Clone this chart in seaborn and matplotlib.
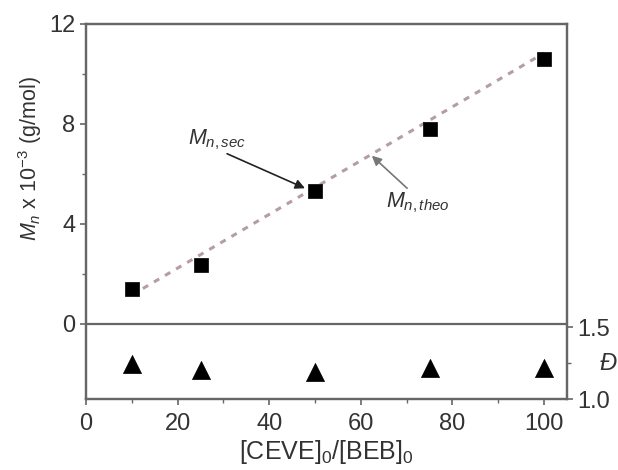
import matplotlib
matplotlib.use("Agg")
import matplotlib.pyplot as plt
import seaborn as sns
import pandas as pd
from matplotlib.ticker import FixedLocator

# ---- data ----
ratio = [10, 25, 50, 75, 100]
mn_sec = [1.39, 2.38, 5.31, 7.80, 10.61]
theo_x = [10, 100]
theo_y = [1.16, 10.84]
dispersity = [1.24, 1.20, 1.19, 1.215, 1.215]

sns.set_style("ticks")
plt.rcParams['font.family'] = ['Liberation Sans', 'DejaVu Sans']
plt.rcParams['mathtext.fontset'] = 'custom'
plt.rcParams['mathtext.rm'] = 'Liberation Sans'
plt.rcParams['mathtext.it'] = 'Liberation Sans:italic'

TXT = '#333333'
SP = '#666666'
FS = 17

fig = plt.figure(figsize=(6.18, 4.70), dpi=100)
ax = fig.add_axes([86/618, 1-399/470, (567-86)/618, (399-24)/470])

df_sec = pd.DataFrame({'x': ratio, 'y': mn_sec})
df_theo = pd.DataFrame({'x': theo_x, 'y': theo_y})
df_d = pd.DataFrame({'x': ratio, 'd': dispersity})

sns.lineplot(data=df_theo, x='x', y='y', ax=ax, color='#b59ea3', lw=2.2,
             linestyle=(0, (2.0, 2.2)), zorder=2)
sns.scatterplot(data=df_sec, x='x', y='y', ax=ax, marker='s', s=115,
                color='black', edgecolor='black', linewidth=0.5, zorder=3)

ax.axhline(0, color=SP, lw=1.6, zorder=1)
ax.set_xlim(0, 105)
ax.set_ylim(-3, 12)
ax.set_xticks([0, 20, 40, 60, 80, 100])
ax.xaxis.set_minor_locator(FixedLocator([10, 30, 50, 70, 90]))
ax.set_yticks([0, 4, 8, 12])
ax.yaxis.set_minor_locator(FixedLocator([2, 6, 10]))
ax.tick_params(axis='both', which='major', labelsize=FS, colors=SP,
               labelcolor=TXT, length=4, width=1.2, direction='out')
ax.tick_params(axis='both', which='minor', colors=SP, length=3, width=1.0,
               direction='out')
ax.tick_params(axis='x', pad=6)
for s in ax.spines.values():
    s.set_color(SP)
    s.set_linewidth(1.6)

ax.set_xlabel(r'[CEVE]$_0$/[BEB]$_0$', fontsize=18, color=TXT, labelpad=2)
ax.set_ylabel(r'$M_n$ x 10$^{-3}$ (g/mol)', fontsize=15.5, color=TXT)
ax.yaxis.set_label_coords(-0.088, 0.64)

# twin axis for dispersity
ax2 = ax.twinx()
sns.scatterplot(data=df_d, x='x', y='d', ax=ax2, marker='^', s=170,
                color='black', edgecolor='black', linewidth=0.5, zorder=3)
ax2.set_ylim(1.0, 1.0 + (399-24)/144)
ax2.set_yticks([1.0, 1.5])
ax2.set_yticklabels(['1.0', '1.5'])
ax2.yaxis.set_minor_locator(FixedLocator([1.25]))
ax2.tick_params(axis='y', which='major', labelsize=FS, colors=SP,
                labelcolor=TXT, length=4, width=1.2, direction='out')
ax2.tick_params(axis='y', which='minor', colors=SP, length=3, width=1.0)
ax2.set_ylabel('')
for s in ax2.spines.values():
    s.set_color(SP)
    s.set_linewidth(1.6)
ax2.text(1.085, 1.25, 'Đ', transform=ax2.get_yaxis_transform(),
         fontsize=FS, color=TXT, style='italic', ha='center', va='center')

# annotations
ax.annotate('', xy=(47.8, 5.43), xytext=(30.8, 6.81),
            arrowprops=dict(arrowstyle='-|>', color='#222222', lw=1.2,
                            mutation_scale=14, shrinkA=0, shrinkB=0))
ax.text(28.6, 7.37, r'$M_{n,sec}$', fontsize=15.5, color=TXT,
        ha='center', va='center')
ax.annotate('', xy=(62.4, 6.73), xytext=(70.1, 5.43),
            arrowprops=dict(arrowstyle='-|>', color='#777777', lw=1.2,
                            mutation_scale=14, shrinkA=0, shrinkB=0))
ax.text(72.5, 4.83, r'$M_{n,theo}$', fontsize=15.5, color=TXT,
        ha='center', va='center')

fig.savefig('out.png', dpi=100)
